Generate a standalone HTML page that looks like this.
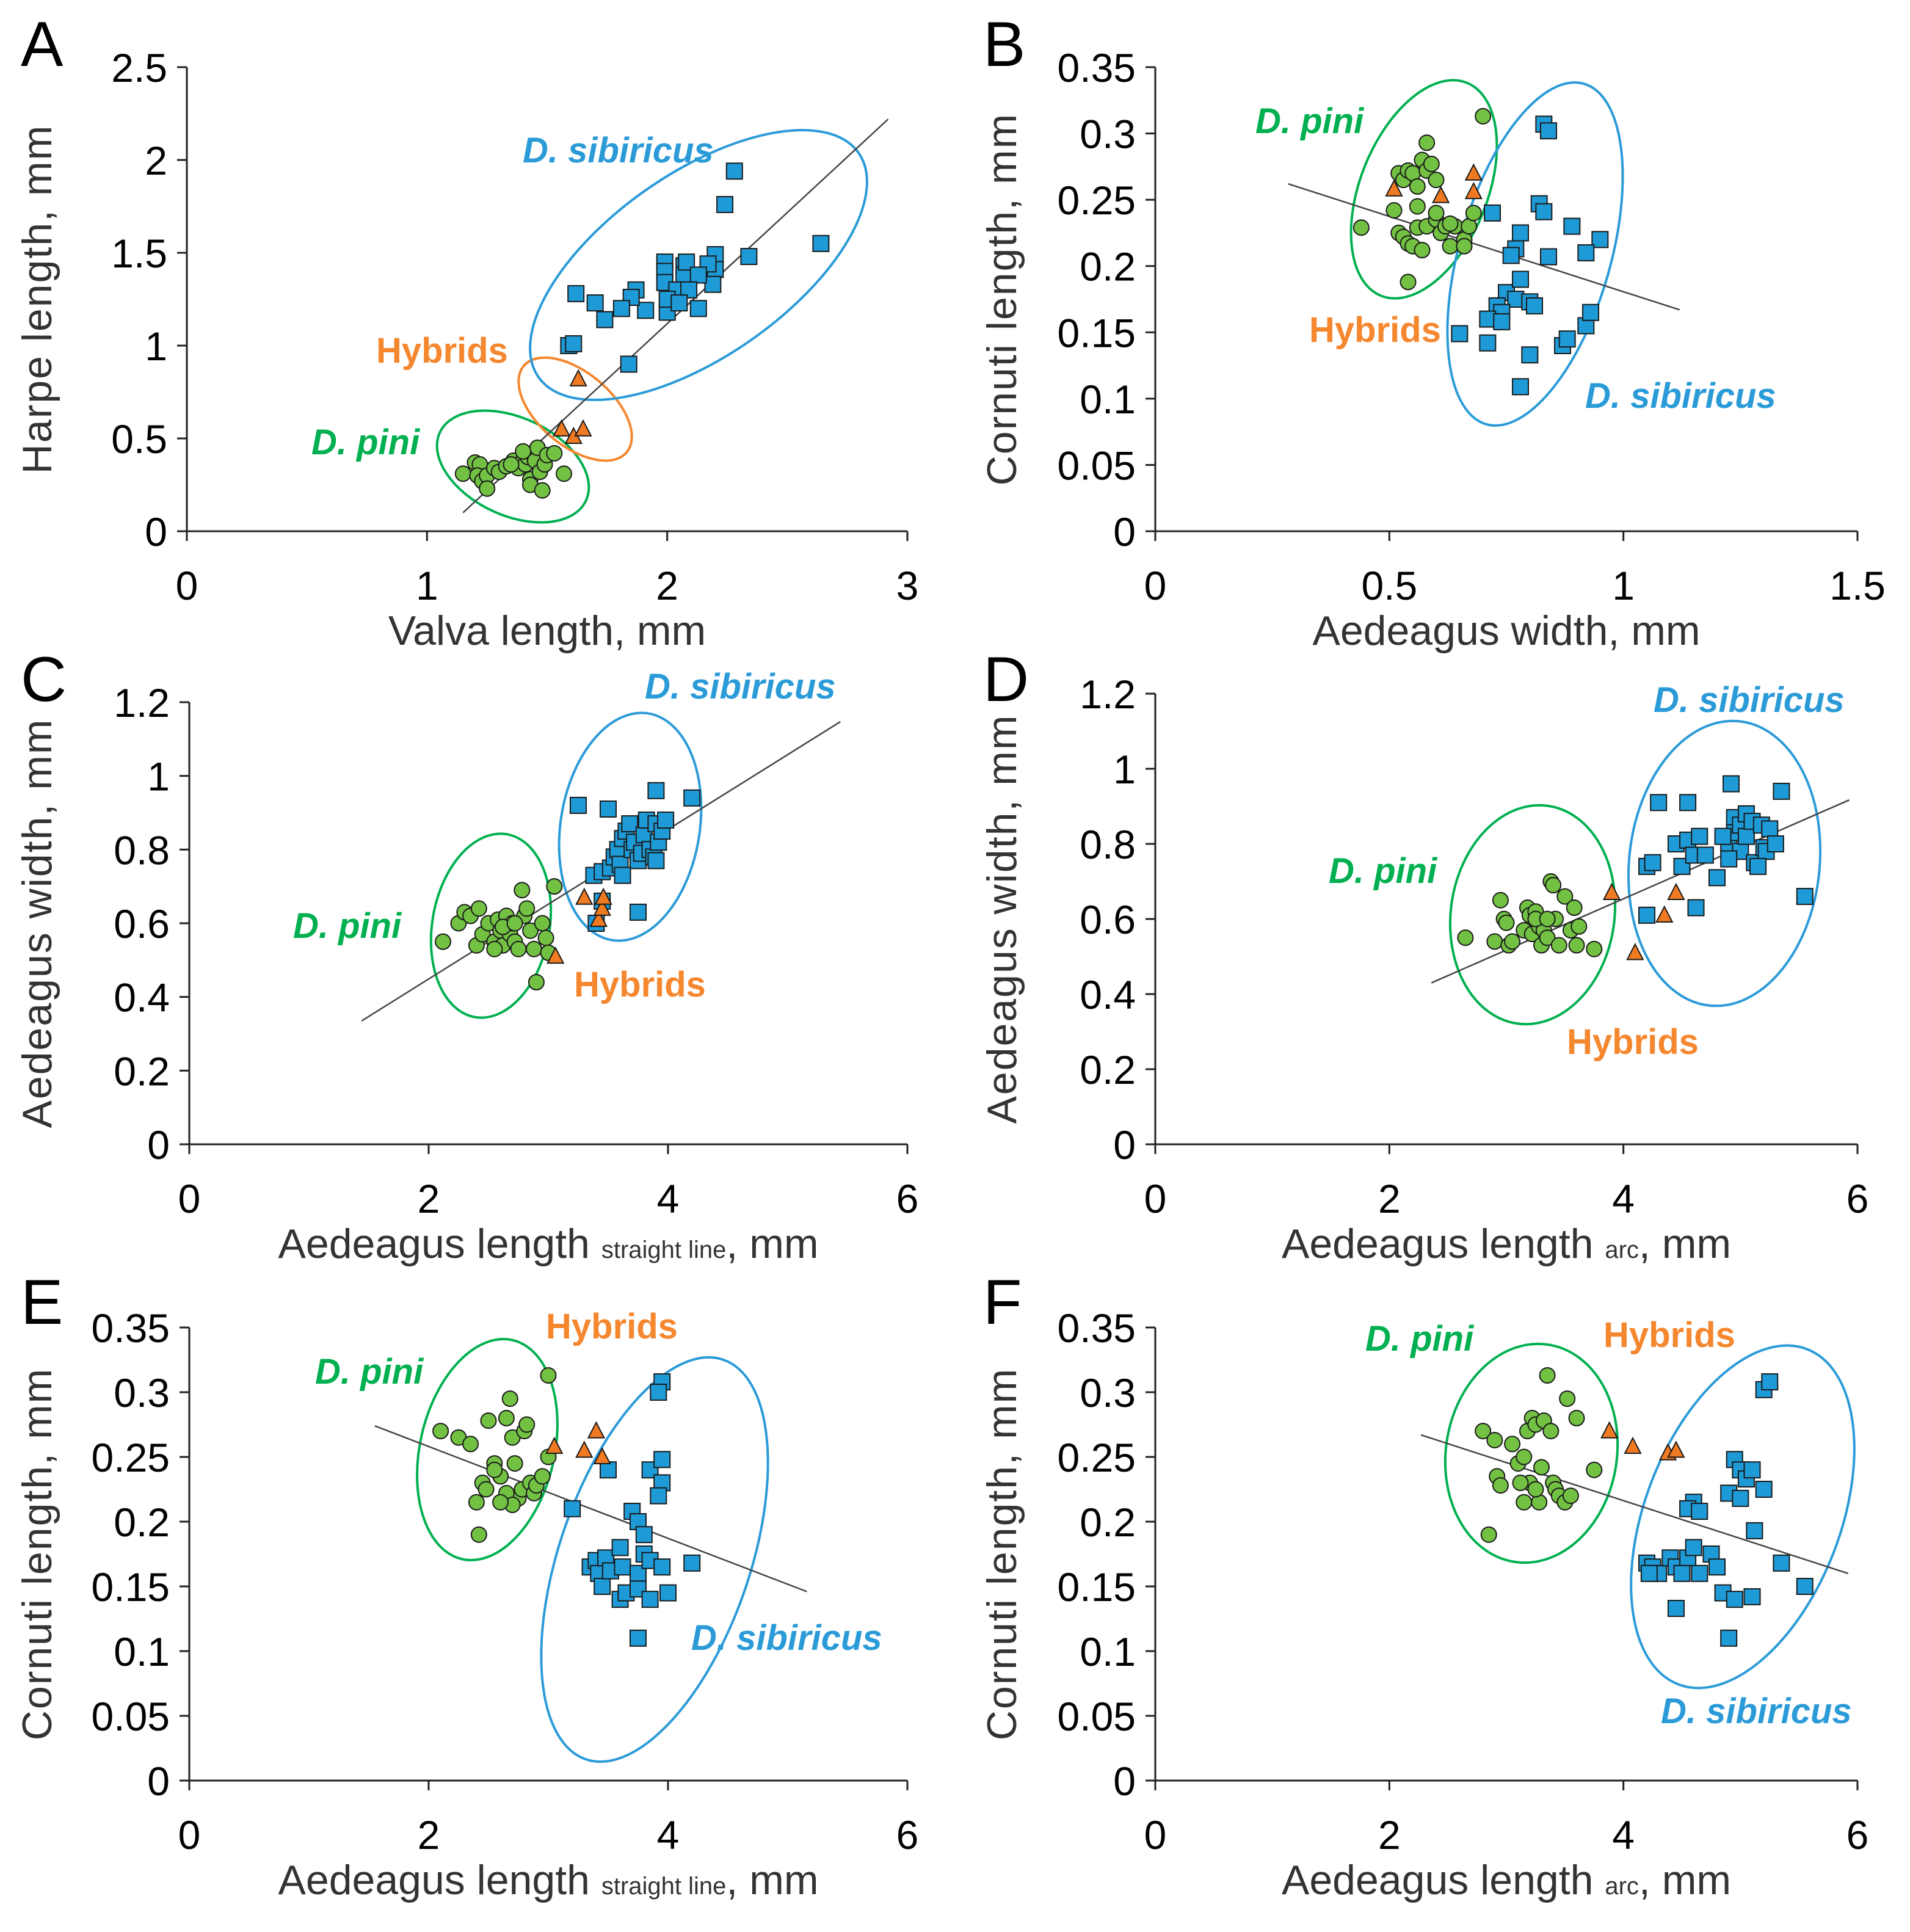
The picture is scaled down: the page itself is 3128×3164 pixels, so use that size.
<!DOCTYPE html>
<html><head><meta charset="utf-8"><style>
html,body{margin:0;padding:0;background:#fff}
svg{display:block}
text{font-family:"Liberation Sans Narrow","Liberation Sans",sans-serif}
</style></head><body>
<svg id="fig" width="3128" height="3164" viewBox="0 0 3128 3164" xmlns="http://www.w3.org/2000/svg"></svg>
<script>
// ---------- DATA ----------
const aPiniX=[1.15,1.20,1.22,1.21,1.23,1.25,1.25,1.28,1.30,1.33,1.36,1.38,1.40,1.41,1.42,1.43,1.43,1.44,1.45,1.46,1.47,1.48,1.49,1.50,1.53,1.57,1.40,1.35];
const aPiniY=[0.31,0.37,0.36,0.30,0.27,0.30,0.23,0.34,0.32,0.35,0.38,0.34,0.38,0.36,0.40,0.28,0.25,0.42,0.38,0.45,0.32,0.22,0.36,0.41,0.42,0.31,0.43,0.36];
const aHybX=[1.63,1.56,1.61,1.65];
const aHybY=[0.82,0.55,0.51,0.55];
const aSibX=[2.28,2.24,2.64,2.34,2.20,2.20,2.19,2.17,2.07,2.07,2.08,1.99,1.99,1.99,2.13,2.04,2.09,2.13,2.00,2.00,1.91,1.87,1.85,1.81,1.74,1.70,1.62,1.59,1.61,1.84,2.05];
const aSibY=[1.94,1.76,1.55,1.48,1.49,1.41,1.33,1.44,1.43,1.38,1.45,1.45,1.40,1.34,1.38,1.30,1.30,1.20,1.18,1.25,1.19,1.30,1.26,1.20,1.14,1.23,1.28,1.00,1.01,0.90,1.23];
const aTrendX=[1.15,2.92];
const aTrendY=[0.10,2.22];

const bPiniX=[0.44,0.51,0.52,0.53,0.54,0.55,0.56,0.56,0.57,0.58,0.58,0.59,0.60,0.52,0.53,0.54,0.55,0.56,0.57,0.54,0.58,0.60,0.61,0.62,0.63,0.64,0.66,0.67,0.68,0.70,0.66,0.60,0.63];
const bPiniY=[0.229,0.242,0.270,0.265,0.272,0.270,0.260,0.245,0.280,0.293,0.272,0.277,0.265,0.225,0.222,0.217,0.215,0.229,0.212,0.188,0.230,0.235,0.225,0.230,0.215,0.230,0.220,0.230,0.240,0.313,0.215,0.240,0.232];
const bHybX=[0.51,0.61,0.68,0.68];
const bHybY=[0.258,0.253,0.270,0.256];
const bSibX=[0.83,0.84,0.82,0.83,0.72,0.78,0.77,0.76,0.89,0.95,0.92,0.84,0.75,0.77,0.78,0.73,0.74,0.71,0.74,0.80,0.81,0.65,0.71,0.80,0.87,0.88,0.92,0.93,0.78];
const bSibY=[0.307,0.302,0.247,0.241,0.240,0.225,0.213,0.208,0.230,0.220,0.210,0.207,0.180,0.175,0.190,0.170,0.165,0.160,0.158,0.173,0.170,0.149,0.142,0.133,0.140,0.145,0.155,0.165,0.109];
const bTrendX=[0.284,1.12];
const bTrendY=[0.262,0.167];

const cPiniX=[2.12,2.25,2.30,2.35,2.40,2.42,2.45,2.50,2.55,2.58,2.60,2.62,2.65,2.68,2.70,2.72,2.75,2.78,2.80,2.82,2.85,2.88,2.90,2.95,2.98,3.00,3.05,2.62,2.72,2.55];
const cPiniY=[0.55,0.60,0.63,0.62,0.54,0.64,0.57,0.60,0.55,0.61,0.58,0.54,0.62,0.57,0.60,0.55,0.53,0.69,0.62,0.64,0.58,0.53,0.44,0.60,0.56,0.52,0.70,0.59,0.60,0.53];
const cHybX=[3.06,3.30,3.42,3.45,3.46];
const cHybY=[0.51,0.67,0.61,0.64,0.67];
const cSibX=[3.25,3.50,3.90,4.20,3.38,3.45,3.52,3.55,3.58,3.60,3.62,3.65,3.68,3.70,3.72,3.75,3.78,3.80,3.82,3.85,3.88,3.90,3.92,3.95,3.98,3.90,3.45,3.40,3.75,3.62];
const cSibY=[0.92,0.91,0.96,0.94,0.73,0.74,0.75,0.78,0.80,0.76,0.83,0.85,0.87,0.80,0.82,0.77,0.79,0.84,0.88,0.80,0.78,0.87,0.82,0.85,0.88,0.77,0.66,0.60,0.63,0.73];
const cTrendX=[1.44,5.44];
const cTrendY=[0.335,1.147];

const dPiniX=[2.65,2.90,2.95,2.98,3.00,3.02,3.05,3.15,3.18,3.20,3.22,3.25,3.28,3.30,3.32,3.35,3.38,3.40,3.42,3.45,3.50,3.55,3.58,3.60,3.62,3.75,3.25,3.35];
const dPiniY=[0.55,0.54,0.65,0.60,0.59,0.53,0.54,0.57,0.63,0.61,0.56,0.62,0.58,0.53,0.57,0.55,0.70,0.69,0.60,0.53,0.66,0.57,0.63,0.53,0.58,0.52,0.60,0.60];
const dHybX=[3.90,4.10,4.35,4.45];
const dHybY=[0.67,0.51,0.61,0.67];
const dSibX=[4.20,4.25,4.30,4.20,4.50,4.55,4.45,4.55,4.60,4.62,4.65,4.70,4.80,4.90,4.92,4.95,4.95,5.00,5.00,5.05,5.05,5.10,5.12,5.18,5.20,5.22,5.25,5.30,5.35,5.55,4.90,4.85,5.15];
const dSibY=[0.74,0.75,0.91,0.61,0.74,0.91,0.80,0.81,0.77,0.63,0.82,0.77,0.71,0.80,0.96,0.87,0.83,0.78,0.85,0.88,0.82,0.86,0.75,0.85,0.79,0.78,0.84,0.80,0.94,0.66,0.76,0.82,0.74];
const dTrendX=[2.36,5.93];
const dTrendY=[0.43,0.917];

const ePiniX=[2.10,2.25,2.35,2.40,2.45,2.42,2.50,2.55,2.60,2.65,2.68,2.70,2.72,2.75,2.78,2.80,2.82,2.85,2.88,2.90,2.95,3.00,3.00,2.65,2.70,2.55,2.60,2.48];
const ePiniY=[0.270,0.265,0.260,0.215,0.230,0.190,0.278,0.245,0.235,0.280,0.295,0.265,0.245,0.218,0.225,0.270,0.275,0.230,0.222,0.228,0.235,0.250,0.313,0.222,0.213,0.240,0.215,0.225];
const eHybX=[3.05,3.30,3.40,3.45];
const eHybY=[0.258,0.255,0.270,0.250];
const eSibX=[3.95,3.92,3.20,3.50,3.85,3.95,3.95,3.92,3.70,3.75,3.80,3.35,3.40,3.42,3.45,3.48,3.52,3.60,3.62,3.75,3.80,3.85,3.95,4.20,3.60,3.65,3.75,3.85,4.00,3.75];
const eSibY=[0.308,0.300,0.210,0.240,0.240,0.248,0.230,0.220,0.208,0.200,0.190,0.165,0.170,0.160,0.150,0.172,0.162,0.180,0.165,0.160,0.175,0.170,0.165,0.168,0.140,0.145,0.148,0.140,0.145,0.110];
const eTrendX=[1.55,5.16];
const eTrendY=[0.274,0.146];

const fPiniX=[2.80,2.90,2.92,2.95,2.85,3.05,3.10,3.15,3.18,3.20,3.22,3.25,3.28,3.30,3.32,3.35,3.40,3.42,3.45,3.50,3.52,3.55,3.60,3.75,3.15,3.25,3.38,3.12];
const fPiniY=[0.270,0.263,0.235,0.228,0.190,0.260,0.245,0.250,0.270,0.230,0.280,0.275,0.215,0.242,0.278,0.313,0.230,0.225,0.220,0.215,0.295,0.220,0.280,0.240,0.215,0.225,0.270,0.230];
const fHybX=[3.88,4.08,4.38,4.45];
const fHybY=[0.270,0.258,0.253,0.255];
const fSibX=[5.20,5.25,4.95,5.00,5.05,5.10,4.90,5.00,5.20,5.12,4.60,4.55,4.65,4.20,4.25,4.30,4.22,4.40,4.45,4.55,4.60,4.75,4.80,4.85,4.95,5.10,5.35,5.55,4.45,4.90,4.50,4.65];
const fSibY=[0.302,0.308,0.248,0.240,0.233,0.240,0.222,0.218,0.225,0.193,0.215,0.210,0.208,0.168,0.165,0.160,0.160,0.172,0.165,0.172,0.180,0.175,0.165,0.145,0.140,0.142,0.168,0.150,0.133,0.110,0.160,0.160];
const fTrendX=[2.27,5.92];
const fTrendY=[0.267,0.160];

const ticksA_X=["0","1","2","3"]; const ticksA_Y=["0","0.5","1","1.5","2","2.5"];
const ticksB_X=["0","0.5","1","1.5"]; const ticksB_Y=["0","0.05","0.1","0.15","0.2","0.25","0.3","0.35"];
const ticksCD_X=["0","2","4","6"]; const ticksCD_Y=["0","0.2","0.4","0.6","0.8","1","1.2"];
const ticksEF_X=["0","2","4","6"]; const ticksEF_Y=["0","0.05","0.1","0.15","0.2","0.25","0.3","0.35"];

// ---------- LAYOUT ----------
const NS="http://www.w3.org/2000/svg";
const svg=document.getElementById('fig');
const GREEN="#00b050", BLUE="#2b9bd8", ORANGE="#f5872f";
function mk(tag,attrs,parent){const e=document.createElementNS(NS,tag);for(const k in attrs)e.setAttribute(k,attrs[k]);(parent||svg).appendChild(e);return e;}

const panels=[
 {id:"a",letter:"A",lx:34,ly:108,x0:306,x1:1486,xmax:3,y0:870,y1:110,ymax:2.5,xt:ticksA_X,yt:ticksA_Y,xtitle:["Valva length, mm"],ytitle:"Harpe length, mm",ytx:60,
  pini:[aPiniX,aPiniY],hyb:[aHybX,aHybY],sib:[aSibX,aSibY],tr:[aTrendX,aTrendY],
  ell:[[840,764,132,80,25,GREEN],[942,670,110,60,40,ORANGE],[1144,434,320,150,-35,BLUE]],
  lab:[[856,266,"D. sibiricus",BLUE],[616,594,"Hybrids",ORANGE],[510,744,"D. pini",GREEN]]},
 {id:"b",letter:"B",lx:1610,ly:108,x0:1892,x1:3042,xmax:1.5,y0:870,y1:110,ymax:0.35,xt:ticksB_X,yt:ticksB_Y,xtitle:["Aedeagus width, mm"],ytitle:"Cornuti length, mm",ytx:1640,
  pini:[bPiniX,bPiniY],hyb:[bHybX,bHybY],sib:[bSibX,bSibY],tr:[bTrendX,bTrendY],
  ell:[[2332,310,188,104,-68,GREEN],[2514,416,290,124,-74,BLUE]],
  lab:[[2056,218,"D. pini",GREEN],[2144,560,"Hybrids",ORANGE],[2596,668,"D. sibiricus",BLUE]]},
 {id:"c",letter:"C",lx:34,ly:1148,x0:310,x1:1486,xmax:6,y0:1874,y1:1150,ymax:1.2,xt:ticksCD_X,yt:ticksCD_Y,xtitle:["Aedeagus length","straight line",", mm"],ytitle:"Aedeagus width, mm",ytx:60,
  pini:[cPiniX,cPiniY],hyb:[cHybX,cHybY],sib:[cSibX,cSibY],tr:[cTrendX,cTrendY],
  ell:[[804,1516,152,96,-80,GREEN],[1032,1354,188,114,-81,BLUE]],
  lab:[[1056,1144,"D. sibiricus",BLUE],[480,1536,"D. pini",GREEN],[940,1632,"Hybrids",ORANGE]]},
 {id:"d",letter:"D",lx:1610,ly:1148,x0:1892,x1:3042,xmax:6,y0:1874,y1:1136,ymax:1.2,xt:ticksCD_X,yt:ticksCD_Y,xtitle:["Aedeagus length","arc",", mm"],ytitle:"Aedeagus width, mm",ytx:1640,
  pini:[dPiniX,dPiniY],hyb:[dHybX,dHybY],sib:[dSibX,dSibY],tr:[dTrendX,dTrendY],
  ell:[[2510,1498,180,134,-82,GREEN],[2824,1414,234,156,-84,BLUE]],
  lab:[[2708,1166,"D. sibiricus",BLUE],[2176,1446,"D. pini",GREEN],[2566,1726,"Hybrids",ORANGE]]},
 {id:"e",letter:"E",lx:34,ly:2168,x0:310,x1:1486,xmax:6,y0:2916,y1:2174,ymax:0.35,xt:ticksEF_X,yt:ticksEF_Y,xtitle:["Aedeagus length","straight line",", mm"],ytitle:"Cornuti length, mm",ytx:60,
  pini:[ePiniX,ePiniY],hyb:[eHybX,eHybY],sib:[eSibX,eSibY],tr:[eTrendX,eTrendY],
  ell:[[798,2374,184,110,-77,GREEN],[1072,2554,346,156,-71,BLUE]],
  lab:[[894,2192,"Hybrids",ORANGE],[516,2266,"D. pini",GREEN],[1132,2702,"D. sibiricus",BLUE]]},
 {id:"f",letter:"F",lx:1610,ly:2168,x0:1892,x1:3042,xmax:6,y0:2916,y1:2174,ymax:0.35,xt:ticksEF_X,yt:ticksEF_Y,xtitle:["Aedeagus length","arc",", mm"],ytitle:"Cornuti length, mm",ytx:1640,
  pini:[fPiniX,fPiniY],hyb:[fHybX,fHybY],sib:[fSibX,fSibY],tr:[fTrendX,fTrendY],
  ell:[[2508,2380,180,140,-81,GREEN],[2854,2484,294,160,-69,BLUE]],
  lab:[[2236,2212,"D. pini",GREEN],[2626,2206,"Hybrids",ORANGE],[2720,2822,"D. sibiricus",BLUE]]}
];

panels.forEach(p=>{
  const g=mk('g',{});
  
  
  const X=v=>p.x0+(v/p.xmax)*(p.x1-p.x0);
  const Y=v=>p.y0-(v/p.ymax)*(p.y0-p.y1);
  const L=mk('text',{x:p.lx,y:p.ly,'font-size':104,fill:'#000'},g);L.textContent=p.letter;
  
  
  const ax=mk('g',{stroke:'#222','stroke-width':3,fill:'none'},g);
  
  
  mk('line',{x1:p.x0,y1:p.y0,x2:p.x1,y2:p.y0},ax);
  mk('line',{x1:p.x0,y1:p.y0,x2:p.x0,y2:p.y1},ax);
  p.xt.forEach(t=>{const x=X(parseFloat(t));mk('line',{x1:x,y1:p.y0,x2:x,y2:p.y0+16},ax);
    const tx=mk('text',{x:x,y:p.y0+112,'font-size':66,'text-anchor':'middle',fill:'#000'},g);tx.textContent=t;
    
    });
  p.yt.forEach(t=>{const y=Y(parseFloat(t));mk('line',{x1:p.x0-16,y1:y,x2:p.x0,y2:y},ax);
    const tx=mk('text',{x:p.x0-32,y:y+24,'font-size':66,'text-anchor':'end',fill:'#000'},g);tx.textContent=t;
    
    });
  const xt=mk('text',{x:(p.x0+p.x1)/2,y:p.y0+186,'font-size':68,'text-anchor':'middle',fill:'#333'},g);
  
  
  if(p.xtitle.length===1){xt.textContent=p.xtitle[0];}
  else{const t1=mk('tspan',{},xt);t1.textContent=p.xtitle[0]+" ";
       const t2=mk('tspan',{'font-size':40},xt);t2.textContent=p.xtitle[1];
       const t3=mk('tspan',{},xt);t3.textContent=p.xtitle[2];}
  const yt=mk('text',{x:0,y:0,'font-size':68,'text-anchor':'middle',fill:'#333','letter-spacing':2,
    transform:`translate(${p.ytx+24},${(p.y0+p.y1)/2}) rotate(-90)`},g);
  yt.textContent=p.ytitle;
  
  
  p.ell.forEach(e=>{const el=mk('ellipse',{cx:e[0],cy:e[1],rx:e[2],ry:e[3],transform:`rotate(${e[4]} ${e[0]} ${e[1]})`,fill:'none',stroke:e[5],'stroke-width':4},g);
    
    });
  const tl=mk('line',{x1:X(p.tr[0][0]),y1:Y(p.tr[1][0]),x2:X(p.tr[0][1]),y2:Y(p.tr[1][1]),stroke:'#444','stroke-width':2.5},g);
  
  
  p.pini[0].forEach((v,i)=>{const c=mk('circle',{cx:X(v),cy:Y(p.pini[1][i]),r:12.5,fill:'#72c143',stroke:'#1a1a1a','stroke-width':2},g);
    
    });
  p.sib[0].forEach((v,i)=>{const x=X(v),y=Y(p.sib[1][i]);const r=mk('rect',{x:x-13,y:y-13,width:26,height:26,fill:'#1e9ad6',stroke:'#1a1a1a','stroke-width':2},g);
    
    });
  p.hyb[0].forEach((v,i)=>{const x=X(v),y=Y(p.hyb[1][i]);const t=mk('polygon',{points:`${x},${y-14} ${x+13},${y+11} ${x-13},${y+11}`,fill:'#f07a22',stroke:'#1a1a1a','stroke-width':2},g);
    
    });
  p.lab.forEach(l=>{const t=mk('text',{x:l[0],y:l[1],'font-size':58,'font-weight':'bold','font-style':l[2]==='Hybrids'?'normal':'italic',fill:l[3]},g);t.textContent=l[2];
    
    });
});
</script>
</body></html>
